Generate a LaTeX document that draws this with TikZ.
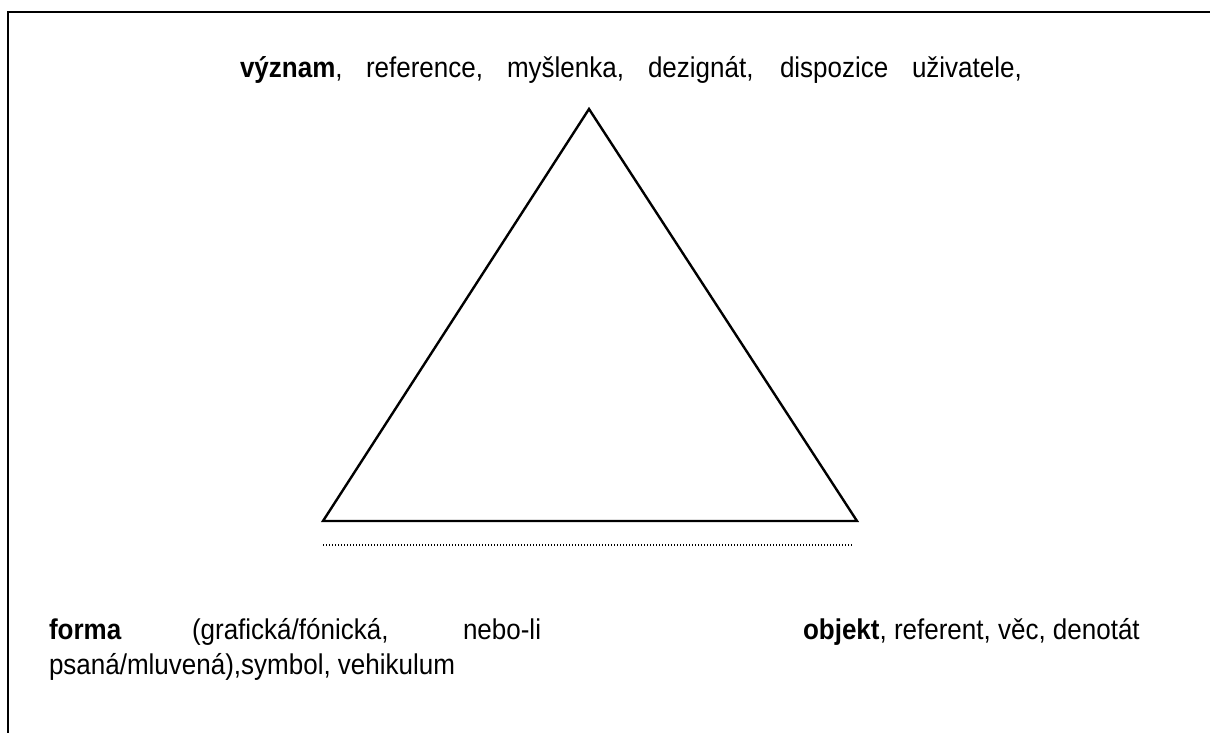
\documentclass[tikz,border=0pt]{standalone}
\usepackage{fontspec}
\setmainfont{Liberation Sans}
\begin{document}
\begin{tikzpicture}[x=0.5pt,y=-0.5pt,
  word/.style={anchor=base west,inner sep=0pt,outer sep=0pt,font=\fontsize{13}{15}\selectfont,yscale=1.1,transform shape},
  frameline/.style={line width=1pt},
  triline/.style={line width=1.2pt,line join=miter},
  dotline/.style={line width=0.7pt,dash pattern=on 0.6pt off 0.9pt}]
\useasboundingbox (0,0) rectangle (1210,733);
% frame
\coordinate (fb) at (8,733);
\coordinate (ftl) at (8,12);
\coordinate (ftr) at (1210,12);
\draw[frameline] (fb) -- (ftl) -- (ftr);
% triangle
\coordinate (apex) at (589,109);
\coordinate (bl) at (323,521);
\coordinate (br) at (857,521);
\draw[triline] (apex) -- (bl) -- (br) -- cycle;
% dotted line
\coordinate (dl) at (323,545);
\coordinate (dr) at (852,545);
\draw[dotline] (dl) -- (dr);
% top text
\node[word] (w1) at (240,78) {\textbf{význam},};
\node[word] (w2) at (366,78) {reference,};
\node[word] (w3) at (507,78) {myšlenka,};
\node[word] (w4) at (648,78) {dezignát,};
\node[word] (w5) at (780,78) {dispozice};
\node[word] (w6) at (912,78) {uživatele,};
% bottom left
\node[word] (f1) at (49,639) {\textbf{forma}};
\node[word] (f2) at (192,639) {(grafická/fónická,};
\node[word] (f3) at (463,639) {nebo-li};
\node[word] (f4) at (49,674) {psaná/mluvená),symbol, vehikulum};
% bottom right
\node[word] (o1) at (803,639) {\textbf{objekt}, referent, věc, denotát};
\end{tikzpicture}
\end{document}
